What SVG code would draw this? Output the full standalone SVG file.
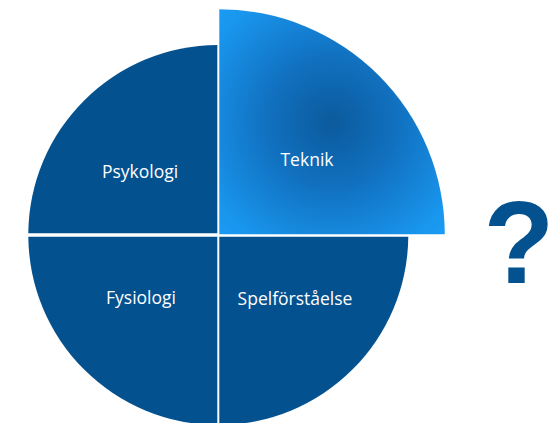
<svg xmlns="http://www.w3.org/2000/svg" width="554" height="423" viewBox="0 0 554 423">
  <style>
    .q { fill: #03518F; }
    .lbl { font-family: "Open Sans", "Noto Sans", sans-serif; font-size: 17.5px; fill: #FFFFFF; text-anchor: middle; }
    .qm { font-family: "Liberation Sans", Arial, sans-serif; font-weight: bold; font-size: 116px; fill: #03518F; text-anchor: middle; }
  </style>
  <defs>
    <radialGradient id="tekGrad" gradientUnits="userSpaceOnUse" cx="332" cy="122" r="165">
      <stop offset="0" stop-color="#0B5A9C"/>
      <stop offset="0.4" stop-color="#1171C0"/>
      <stop offset="0.85" stop-color="#1996EE"/>
      <stop offset="1" stop-color="#1B9DF6"/>
    </radialGradient>
  </defs>
  <rect width="554" height="423" fill="#FFFFFF"/>
  <g id="psykologi">
    <path class="q" d="M217.3,233.3 H28.3 A190,190 0 0 1 217.3,45 Z"/>
    <text class="lbl" x="140" y="178">Psykologi</text>
  </g>
  <g id="fysiologi">
    <path class="q" d="M217.3,236.7 V425 A190,190 0 0 1 28.3,236.7 Z"/>
    <text class="lbl" x="141" y="304">Fysiologi</text>
  </g>
  <g id="spelforstaelse">
    <path class="q" d="M219.3,236.7 H408.3 A190,190 0 0 1 219.3,425 Z"/>
    <text class="lbl" x="295" y="304.5">Spelförståelse</text>
  </g>
  <g id="teknik">
    <path fill="url(#tekGrad)" d="M219.3,234.3 V9.3 A225.5,225.5 0 0 1 444.8,234.3 Z"/>
    <text class="lbl" x="307" y="166">Teknik</text>
  </g>
  <g id="fraga">
    <text class="qm" x="519" y="282.7">?</text>
  </g>
  <g id="connectors"/>
</svg>
